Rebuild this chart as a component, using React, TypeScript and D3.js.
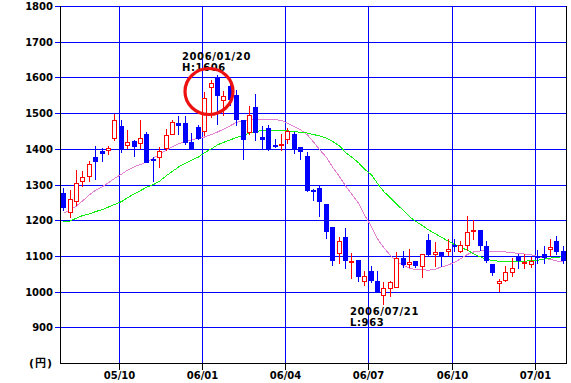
import React from "react";
import * as d3 from "d3";

// Weekly candles (2005/08 .. 2007/02)
const openV = [1276,1222,1255,1311,1325,1377,1393,1397,1430,1463,1411,1423,1416,1441,1371,1377,1402,1441,1472,1472,1419,1460,1449,1573,1600,1536,1577,1550,1481,1447,1516,1434,1458,1411,1411,1427,1442,1406,1381,1284,1290,1245,1180,1108,1154,1083,1089,1029,1057,1031,991,1010,1013,1094,1077,1087,1073,1145,1106,1110,1115,1131,1113,1131,1170,1173,1128,1077,1023,1033,1055,1101,1080,1077,1101,1105,1120,1143,1115];
const highV = [1290,1285,1341,1339,1365,1407,1402,1407,1498,1480,1452,1425,1481,1447,1377,1405,1456,1481,1491,1491,1444,1467,1558,1594,1606,1561,1581,1566,1481,1519,1553,1463,1467,1428,1441,1458,1447,1406,1391,1288,1297,1245,1180,1152,1178,1108,1089,1059,1071,1057,1026,1031,1110,1113,1119,1087,1106,1162,1138,1110,1147,1147,1143,1213,1201,1173,1143,1077,1036,1071,1094,1105,1105,1096,1117,1127,1148,1155,1127];
const lowV = [1225,1206,1241,1293,1306,1313,1362,1383,1421,1388,1399,1377,1399,1360,1306,1346,1393,1439,1439,1411,1397,1425,1435,1486,1467,1491,1519,1463,1369,1439,1421,1400,1393,1402,1393,1413,1385,1369,1279,1255,1208,1148,1071,1077,1064,1036,1027,1015,1024,998,963,985,1010,1066,1066,1066,1038,1097,1068,1068,1099,1110,1108,1113,1145,1113,1080,1043,999,1027,1040,1062,1064,1066,1077,1077,1099,1103,1077];
const closeV = [1234,1259,1304,1321,1357,1362,1386,1402,1481,1397,1418,1404,1430,1360,1365,1393,1439,1475,1463,1416,1400,1428,1542,1585,1547,1547,1537,1481,1425,1495,1444,1426,1400,1408,1414,1451,1400,1391,1283,1279,1250,1167,1087,1143,1087,1087,1040,1043,1031,998,1010,1026,1094,1075,1083,1073,1106,1103,1112,1099,1120,1124,1131,1167,1173,1127,1087,1052,1029,1055,1066,1085,1083,1087,1096,1094,1124,1110,1085];

// Moving averages
const ma13 = [1219,1229,1240,1254,1271,1284,1294,1305,1317,1329,1340,1350,1356,1363,1374,1385,1396,1406,1414,1420,1425,1430,1433,1440,1447,1455,1465,1474,1478,1482,1482,1482,1481,1481,1480,1472,1462,1453,1439,1419,1398,1376,1349,1322,1296,1274,1248,1215,1182,1148,1124,1101,1085,1073,1066,1061,1061,1060,1063,1069,1075,1082,1092,1104,1111,1114,1114,1113,1112,1111,1109,1107,1105,1103,1099,1094,1090,1086,1083];
const ma26 = [1195,1198,1206,1213,1218,1224,1230,1237,1244,1252,1263,1274,1283,1292,1300,1309,1325,1337,1349,1360,1368,1377,1389,1400,1411,1418,1425,1432,1438,1444,1448,1452,1452,1451,1451,1450,1449,1446,1444,1440,1436,1430,1421,1408,1390,1377,1361,1343,1327,1303,1281,1262,1245,1227,1210,1197,1185,1173,1162,1152,1141,1132,1124,1116,1106,1097,1091,1087,1085,1085,1084,1084,1085,1087,1088,1091,1094,1096,1098];

const yTicks = [900,1000,1100,1200,1300,1400,1500,1600,1700,1800];
const xTickLabels = ["05/10","06/01","06/04","06/07","06/10","07/01"];
const xTickIndex = [9,22,35,48,61,74];

const W = 571, H = 383;
const L = 60, R = 566, T = 6, B = 363;
const BLUE = "#0000ff";
const RED = "#ff0000";
const FONT = "'DejaVu Sans', 'Noto Sans CJK JP', sans-serif";

export default function App() {
  const idx = d3.range(openV.length);
  const x = d3.scaleBand<number>().domain(idx).range([L, R]).paddingInner(0).paddingOuter(0);
  const y = d3.scaleLinear().domain([800, 1800]).range([B, T]);
  const cx = (i: number) => Math.round((x(i) as number) + x.bandwidth() / 2);

  const line = d3.line<number>().x((_, i) => cx(i) + 0.5).y((v) => y(v));

  const grid = (i: number) => Math.round((x(i) as number) + 1) + 0.5;

  return (
    <svg width={W} height={H} style={{ position: "absolute", left: 0, top: 0, background: "#fff" }}>
      <rect x={0} y={0} width={W} height={H} fill="#fff" />
      {/* horizontal grid */}
      {yTicks.map((t) => (
        <line key={"h" + t} x1={L - 5} x2={R} y1={Math.round(y(t)) + 0.5} y2={Math.round(y(t)) + 0.5}
          stroke={BLUE} strokeWidth={1} shapeRendering="crispEdges" />
      ))}
      {/* vertical grid */}
      {xTickIndex.map((i) => (
        <g key={"v" + i}>
          <line x1={grid(i)} x2={grid(i)} y1={T} y2={B} stroke={BLUE} shapeRendering="crispEdges" />
          <line x1={grid(i)} x2={grid(i)} y1={B} y2={B + 7} stroke="#000" shapeRendering="crispEdges" />
        </g>
      ))}
      {/* axes frame */}
      <line x1={L + 0.5} x2={L + 0.5} y1={T} y2={B + 1} stroke="#000" shapeRendering="crispEdges" />
      <line x1={R + 0.5} x2={R + 0.5} y1={T} y2={B + 1} stroke="#000" shapeRendering="crispEdges" />
      <line x1={L} x2={R + 1} y1={B + 0.5} y2={B + 0.5} stroke="#000" shapeRendering="crispEdges" />

      {/* y labels */}
      {yTicks.map((t) => (
        <text key={"yl" + t} x={53} y={Math.round(y(t)) + 4} textAnchor="end" fontFamily={FONT}
          fontWeight="bold" fontSize={10} fill="#000">{t}</text>
      ))}
      <text x={53} y={367} textAnchor="end" fontFamily={FONT} fontWeight="bold" fontSize={11} letterSpacing={1} fill="#000">(円)</text>
      {/* x labels */}
      {xTickIndex.map((i, k) => (
        <text key={"xl" + i} x={grid(i)} y={379} textAnchor="middle" fontFamily={FONT}
          fontWeight="bold" fontSize={10} fill="#000">{xTickLabels[k]}</text>
      ))}

      {/* moving averages */}
      <path d={line(ma13) || ""} fill="none" stroke="#e47fd2" strokeWidth={1} shapeRendering="crispEdges" />
      <path d={line(ma26) || ""} fill="none" stroke="#11ee11" strokeWidth={1} shapeRendering="crispEdges" />

      {/* candles */}
      {idx.map((i) => {
        const o = openV[i], c = closeV[i], h = highV[i], l = lowV[i];
        const up = c >= o;
        const xc = cx(i);
        const top = Math.round(y(Math.max(o, c)));
        const bot = Math.round(y(Math.min(o, c)));
        const col = up ? RED : BLUE;
        return (
          <g key={"c" + i}>
            <line x1={xc + 0.5} x2={xc + 0.5} y1={Math.round(y(h))} y2={Math.round(y(l))} stroke={col}
              shapeRendering="crispEdges" />
            {up ? (
              <rect x={xc - 2 + 0.5} y={top + 0.5} width={4} height={Math.max(bot - top, 1)} fill="#fff"
                stroke={RED} strokeWidth={1} shapeRendering="crispEdges" />
            ) : (
              <rect x={xc - 2} y={top} width={5} height={Math.max(bot - top, 2)} fill={BLUE}
                shapeRendering="crispEdges" />
            )}
          </g>
        );
      })}

      {/* annotations */}
      <text x={182} y={60} fontFamily={FONT} fontWeight="bold" fontSize={10} fill="#000" letterSpacing={0.6}>2006/01/20</text>
      <text x={182} y={71} fontFamily={FONT} fontWeight="bold" fontSize={10} fill="#000" letterSpacing={0.6}>H:1606</text>
      <ellipse cx={209} cy={91.5} rx={24} ry={23} fill="none" stroke="#ee1111" strokeWidth={3.2} />
      <text x={350} y={315} fontFamily={FONT} fontWeight="bold" fontSize={10} fill="#000" letterSpacing={0.6}>2006/07/21</text>
      <text x={350} y={326} fontFamily={FONT} fontWeight="bold" fontSize={10} fill="#000" letterSpacing={0.6}>L:963</text>
    </svg>
  );
}
